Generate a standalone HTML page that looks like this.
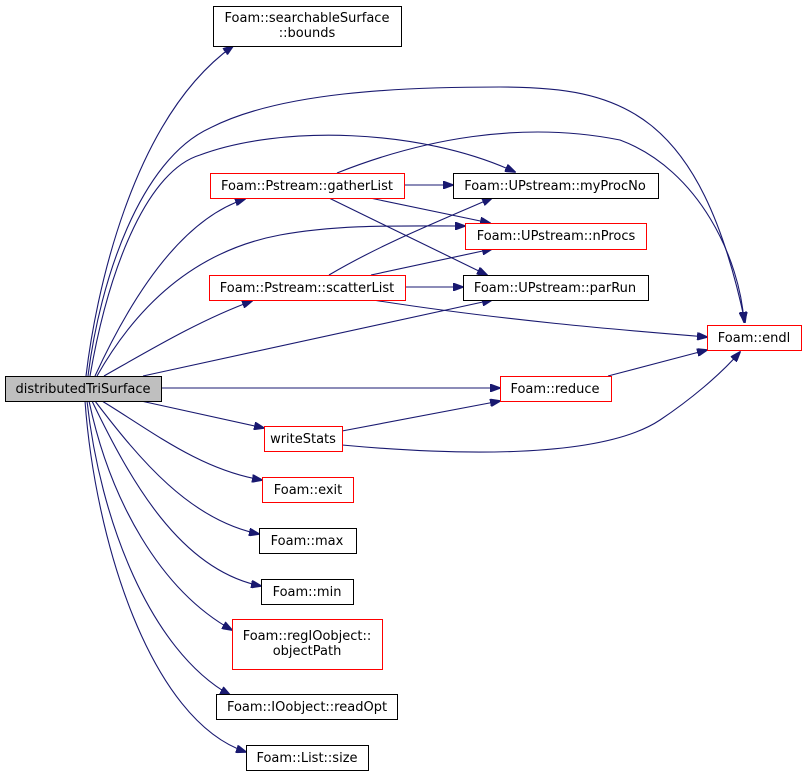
<!DOCTYPE html>
<html><head><meta charset="utf-8"><style>
html,body{margin:0;padding:0;background:#fff;}
svg{display:block;}
text{font-family:"DejaVu Sans","Liberation Sans",sans-serif;font-size:13px;fill:#000;text-anchor:middle;}
.e{fill:none;stroke:#191970;stroke-width:1.1;}
</style></head><body>
<svg width="807" height="778" viewBox="0 0 807 778" xmlns="http://www.w3.org/2000/svg">
<defs>
<marker id="a" markerWidth="11" markerHeight="8" refX="10" refY="4" orient="auto" markerUnits="userSpaceOnUse">
<path d="M0,0 L11,4 L0,8 Z" fill="#191970" stroke="#191970"/>
</marker>
</defs>
<g marker-end="url(#a)">
<path class="e" d="M86,376 C95,300 130,120 233,46"/>
<path class="e" d="M88,376 C100,280 140,160 210,128 C280,92 400,87 500,87 C620,87 700,110 745,322"/>
<path class="e" d="M90,376 C110,260 150,170 200,155 C280,125 420,128 515,172"/>
<path class="e" d="M337,173 C420,140 520,120 620,140 C700,170 740,260 744,322"/>
<path class="e" d="M95,376 C130,300 180,220 245,199"/>
<path class="e" d="M97,376 C140,300 200,250 280,235 C340,224 400,226 465,226"/>
<path class="e" d="M404,185 L453,185"/>
<path class="e" d="M370,198 L490,223"/>
<path class="e" d="M329,198 L487,275"/>
<path class="e" d="M329,275 C380,245 430,225 492,198"/>
<path class="e" d="M371,275 L492,249"/>
<path class="e" d="M405,287 L463,287"/>
<path class="e" d="M373,300 C500,320 620,330 707,337"/>
<path class="e" d="M104,376 C150,350 200,320 252,301"/>
<path class="e" d="M143,376 L492,300"/>
<path class="e" d="M161,388 L500,388"/>
<path class="e" d="M608,376 L707,350"/>
<path class="e" d="M342,431 L500,401"/>
<path class="e" d="M342,445 C450,455 600,460 660,420 C690,400 720,375 740,352"/>
<path class="e" d="M141,401 L264,428"/>
<path class="e" d="M102,401 C150,430 200,470 262,480"/>
<path class="e" d="M95,401 C140,460 190,520 259,534"/>
<path class="e" d="M92,401 C130,480 180,570 261,586"/>
<path class="e" d="M89,401 C110,500 160,590 232,630"/>
<path class="e" d="M87,401 C100,520 150,650 230,695"/>
<path class="e" d="M85,401 C95,540 150,720 246,752"/>
</g>
<g stroke-width="1">
<rect x="5.5" y="376.5" width="156" height="25" fill="#bfbfbf" stroke="#000"/>
<rect x="213.5" y="6.5" width="188" height="40" fill="#fff" stroke="#000"/>
<rect x="210.5" y="173.5" width="194" height="25" fill="#fff" stroke="#f00"/>
<rect x="209.5" y="275.5" width="196" height="25" fill="#fff" stroke="#f00"/>
<rect x="453.5" y="173.5" width="205" height="25" fill="#fff" stroke="#000"/>
<rect x="465.5" y="223.5" width="181" height="26" fill="#fff" stroke="#f00"/>
<rect x="463.5" y="275.5" width="185" height="25" fill="#fff" stroke="#000"/>
<rect x="707.5" y="325.5" width="94" height="25" fill="#fff" stroke="#f00"/>
<rect x="500.5" y="376.5" width="111" height="25" fill="#fff" stroke="#f00"/>
<rect x="264.5" y="426.5" width="78" height="25" fill="#fff" stroke="#f00"/>
<rect x="262.5" y="477.5" width="91" height="25" fill="#fff" stroke="#f00"/>
<rect x="259.5" y="528.5" width="97" height="25" fill="#fff" stroke="#000"/>
<rect x="261.5" y="579.5" width="92" height="25" fill="#fff" stroke="#000"/>
<rect x="232.5" y="619.5" width="150" height="50" fill="#fff" stroke="#f00"/>
<rect x="216.5" y="694.5" width="181" height="25" fill="#fff" stroke="#000"/>
<rect x="246.5" y="745.5" width="122" height="25" fill="#fff" stroke="#000"/>
</g>
<text x="83" y="393">distributedTriSurface</text>
<text x="307" y="22">Foam::searchableSurface</text>
<text x="307" y="37">::bounds</text>
<text x="307" y="190">Foam::Pstream::gatherList</text>
<text x="307" y="292">Foam::Pstream::scatterList</text>
<text x="555" y="190">Foam::UPstream::myProcNo</text>
<text x="556" y="240">Foam::UPstream::nProcs</text>
<text x="555" y="292">Foam::UPstream::parRun</text>
<text x="754" y="342">Foam::endl</text>
<text x="555" y="393">Foam::reduce</text>
<text x="303" y="443">writeStats</text>
<text x="308" y="494">Foam::exit</text>
<text x="307" y="545">Foam::max</text>
<text x="307" y="596">Foam::min</text>
<text x="307" y="640">Foam::regIOobject::</text>
<text x="307" y="655">objectPath</text>
<text x="307" y="711">Foam::IOobject::readOpt</text>
<text x="307" y="762">Foam::List::size</text>
</svg>
</body></html>
